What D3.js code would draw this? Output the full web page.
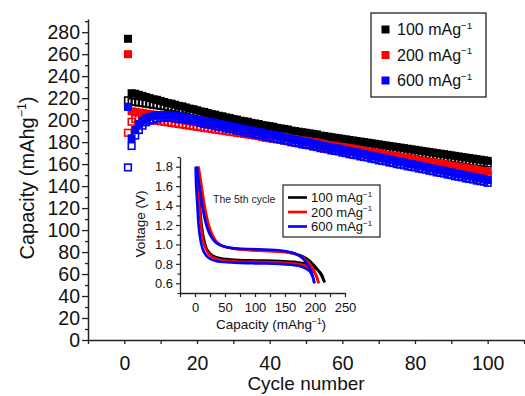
<!DOCTYPE html>
<html>
<head>
<meta charset="utf-8">
<script src="https://cdn.jsdelivr.net/npm/d3@7"></script>
<style>
  html, body { margin: 0; padding: 0; background: #fff; }
  svg { display: block; font-family: "Liberation Sans", Arial, sans-serif; }
</style>
</head>
<body>
<svg id="chart" width="525" height="396"></svg>
<script>
// capacity (mAh g-1) per cycle, index 0 = cycle 1; filled = discharge, open = charge
const dis100 = [274,
  224.5, 224, 223, 222, 221, 220, 219, 218.5, 217.5,
  216.5, 215.5, 215, 214, 213, 212.5, 211.5, 210.5, 210, 209,
  208, 207.5, 206.5, 205.5, 205, 204, 203.5, 202.5, 202, 201,
  200.5, 199.5, 199, 198.5, 197.5, 197, 196.5, 195.5, 195, 194.5,
  194, 193, 192.5, 192, 191.5, 190.5, 190, 189.5, 189, 188.5,
  188, 187.5, 187, 186, 185.5, 185, 184.5, 184, 183.5, 183,
  182.5, 182, 181.5, 181, 180.5, 180, 179.5, 179, 178.5, 178,
  177.5, 177, 176.5, 176, 175.5, 175, 174.5, 174, 173.5, 173,
  172.5, 172, 171.5, 171, 170.5, 170, 169.5, 169, 168.5, 168,
  167.5, 167, 166.5, 166, 165.5, 165, 164.5, 164, 163.5, 163];
const chg100 = [218,
  216.5, 216.5, 216, 215.5, 215, 214.5, 214, 213.5, 213,
  212.5, 212, 211.5, 211, 210, 209.5, 208.5, 207.5, 207, 206,
  205, 204.5, 203.5, 202.5, 202, 201, 200.5, 199.5, 199, 198,
  197.5, 196.5, 196, 195.5, 194.5, 194, 193.5, 192.5, 192, 191.5,
  191, 190, 189.5, 189, 188.5, 187.5, 187, 186.5, 186, 185.5,
  185, 184.5, 184, 183, 182.5, 182, 181.5, 181, 180.5, 180,
  179.5, 179, 178.5, 178, 177.5, 177, 176.5, 176, 175.5, 175,
  174.5, 174, 173.5, 173, 172.5, 172, 171.5, 171, 170.5, 170,
  169.5, 169, 168.5, 168, 167.5, 167, 166.5, 166, 165.5, 165,
  164.5, 164, 163.5, 163, 162.5, 162, 161.5, 161, 161, 160.5];
const dis200 = [260,
  208, 207.5, 207, 206.5, 206, 205.5, 205, 204.5, 203.5,
  203, 202.5, 202, 201, 200.5, 200, 199.5, 199, 198.5, 198,
  197.5, 197, 196.5, 195.5, 195, 194.5, 194, 193.5, 193, 192.5,
  191.5, 191, 190.5, 190, 189.5, 189, 188.5, 187.5, 187, 186.5,
  186, 185.5, 185, 184.5, 184, 183, 182.5, 182, 181.5, 181,
  180.5, 180, 179.5, 179, 178, 177.5, 177, 176.5, 176, 175.5,
  175, 174.5, 174, 173, 172.5, 172, 171.5, 171, 170.5, 170,
  169.5, 168.5, 168, 167.5, 167, 166.5, 166, 165.5, 165, 164.5,
  163.5, 163, 162.5, 162, 161.5, 161, 160.5, 160, 159.5, 158.5,
  158, 157.5, 157, 156.5, 156, 155.5, 155, 154, 153.5, 153];
const chg200 = [188.5,
  198.5, 201, 201.5, 201.5, 201, 200.5, 200, 199.5, 199,
  198.5, 198, 197.5, 197, 196.5, 196, 195.5, 195, 194.5, 194,
  193.5, 193, 192.5, 192, 191.5, 191, 190.5, 190, 189.5, 189,
  188.5, 188, 187.5, 187, 186.5, 186, 185.5, 184.5, 184, 183.5,
  183, 182.5, 182, 181.5, 181, 180, 179.5, 179, 178.5, 178,
  177.5, 177, 176.5, 176, 175, 174.5, 174, 173.5, 173, 172.5,
  172, 171.5, 171, 170, 169.5, 169, 168.5, 168, 167.5, 167,
  166.5, 165.5, 165, 164.5, 164, 163.5, 163, 162.5, 162, 161.5,
  160.5, 160, 159.5, 159, 158.5, 158, 157.5, 157, 156.5, 155.5,
  155, 154.5, 154, 153.5, 153, 152.5, 152, 151, 150.5, 150];
const dis600 = [212,
  183.5, 191, 196.5, 199.5, 201.5, 203, 204, 204.5, 204.5,
  204.5, 204.5, 204.5, 204, 203.5, 203, 202.5, 202, 201, 200.5,
  200, 199, 198.5, 198, 197, 196.5, 196, 195, 194.5, 194,
  193, 192.5, 191.5, 191, 190.5, 189.5, 189, 188.5, 187.5, 187,
  186, 185.5, 185, 184, 183.5, 182.5, 182, 181.5, 180.5, 180,
  179.5, 178.5, 178, 177, 176.5, 176, 175, 174.5, 174, 173,
  172.5, 171.5, 171, 170.5, 169.5, 169, 168.5, 167.5, 167, 166,
  165.5, 165, 164, 163.5, 162.5, 162, 161.5, 160.5, 160, 159.5,
  158.5, 158, 157.5, 156.5, 156, 155, 154.5, 154, 153, 152.5,
  151.5, 151, 150.5, 149.5, 149, 148.5, 147.5, 147, 146.5, 145.5];
const chg600 = [157,
  176.5, 186, 191, 195, 198, 199.5, 200.5, 201.5, 202,
  202, 202, 202, 201.5, 201.5, 201, 200.5, 200, 199, 198.5,
  197.5, 196.5, 196, 195.5, 194.5, 194, 193.5, 192.5, 192, 191.5,
  190.5, 190, 189, 188.5, 188, 187, 186.5, 186, 185, 184.5,
  183.5, 183, 182.5, 181.5, 181, 180, 179.5, 179, 178, 177.5,
  177, 176, 175.5, 174.5, 174, 173.5, 172.5, 172, 171.5, 170.5,
  170, 169, 168.5, 168, 167, 166.5, 166, 165, 164.5, 163.5,
  163, 162.5, 161.5, 161, 160, 159.5, 159, 158, 157.5, 157,
  156, 155.5, 155, 154, 153.5, 152.5, 152, 151.5, 150.5, 150,
  149, 148.5, 148, 147, 146.5, 146, 145, 144.5, 144, 143];

const rateLabels = ['100', '200', '600'];
const rateColors = ['#000000', '#ff0000', '#0000ff'];

// inset: 5th cycle voltage profiles, [capacity, voltage]
const v100Dis = [[3, 1.80], [5, 1.6], [8, 1.4], [11, 1.2], [15, 1.05], [20, 0.95], [28, 0.89], [40, 0.86], [60, 0.845], [100, 0.835], [140, 0.83], [165, 0.82], [185, 0.80], [200, 0.76], [210, 0.70], [216, 0.61]];
const v100Chg = [[5, 1.80], [9, 1.6], [14, 1.4], [20, 1.22], [27, 1.1], [35, 1.02], [48, 0.98], [70, 0.955], [110, 0.94], [150, 0.925], [170, 0.90], [185, 0.86], [198, 0.79], [208, 0.71], [216, 0.61]];
const v200Dis = [[2, 1.80], [4, 1.6], [7, 1.4], [10, 1.2], [14, 1.03], [19, 0.94], [27, 0.875], [40, 0.845], [60, 0.83], [100, 0.82], [140, 0.815], [165, 0.805], [182, 0.785], [195, 0.74], [202, 0.68], [206, 0.60]];
const v200Chg = [[6, 1.80], [11, 1.6], [16, 1.4], [22, 1.22], [29, 1.1], [37, 1.02], [50, 0.975], [70, 0.95], [110, 0.935], [150, 0.92], [170, 0.895], [183, 0.85], [195, 0.77], [202, 0.68], [206, 0.60]];
const v600Dis = [[1, 1.80], [2, 1.6], [4, 1.4], [6, 1.2], [10, 1.02], [15, 0.92], [23, 0.86], [35, 0.83], [60, 0.815], [100, 0.805], [140, 0.80], [160, 0.79], [178, 0.77], [190, 0.73], [196, 0.67], [199, 0.60]];
const v600Chg = [[3, 1.80], [7, 1.6], [12, 1.4], [18, 1.22], [25, 1.1], [33, 1.03], [45, 0.985], [65, 0.96], [105, 0.95], [145, 0.935], [165, 0.91], [178, 0.865], [188, 0.79], [195, 0.70], [199, 0.60]];

const mainXTicks = [0, 20, 40, 60, 80, 100];
const mainYTicks = [0, 20, 40, 60, 80, 100, 120, 140, 160, 180, 200, 220, 240, 260, 280];
const insetXTicks = [0, 50, 100, 150, 200, 250];
const insetYTicks = [0.6, 0.8, 1.0, 1.2, 1.4, 1.6, 1.8];

const svg = d3.select('#chart');

// superscript helper: "base" + sup + "after"
function supText(sel, base, sup, after, size) {
  sel.append('tspan').text(base);
  sel.append('tspan').attr('font-size', size * 0.62).attr('dy', -size * 0.4).text(sup);
  sel.append('tspan').attr('dy', size * 0.4).text(after);
}

// ---- main plot ----
const x = d3.scaleLinear().domain([-10, 110]).range([88, 524]);
const y = d3.scaleLinear().domain([0, 292]).range([340, 19]);

const yAxis = svg.append('g').attr('transform', 'translate(88,0)')
  .call(d3.axisLeft(y).tickValues(mainYTicks).tickSize(6).tickSizeOuter(0).tickPadding(2));
svg.append('g').attr('transform', 'translate(88,0)')
  .call(d3.axisLeft(y).tickValues(d3.range(10, 292, 20)).tickSize(3).tickSizeOuter(0).tickFormat(''))
  .select('.domain').remove();
const xAxis = svg.append('g').attr('transform', 'translate(0,340)')
  .call(d3.axisBottom(x).tickValues(mainXTicks).tickSize(4).tickSizeOuter(0).tickPadding(12));
svg.append('g').attr('transform', 'translate(0,340)')
  .call(d3.axisBottom(x).tickValues([-10, 10, 30, 50, 70, 90, 110]).tickSize(4).tickSizeOuter(0).tickFormat(''))
  .select('.domain').remove();

svg.selectAll('.tick line').attr('stroke', '#222').attr('stroke-width', 1.3);
svg.selectAll('.domain').attr('stroke', '#222').attr('stroke-width', 1.5);
yAxis.selectAll('text').attr('font-size', 19.5).attr('fill', '#111').attr('font-family', null);
xAxis.selectAll('text').attr('font-size', 19.5).attr('fill', '#111').attr('font-family', null);

supText(svg.append('text')
  .attr('transform', 'translate(34,178) rotate(-90)')
  .attr('text-anchor', 'middle').attr('font-size', 20).attr('fill', '#111'),
  'Capacity (mAhg', '\u22121', ')', 20);

svg.append('text').attr('x', 306).attr('y', 390)
  .attr('text-anchor', 'middle').attr('font-size', 19).attr('fill', '#111')
  .text('Cycle number');

// data squares, drawn 100 -> 200 -> 600
const mainSeries = [
  { dis: dis100, chg: chg100, color: rateColors[0] },
  { dis: dis200, chg: chg200, color: rateColors[1] },
  { dis: dis600, chg: chg600, color: rateColors[2] }
];
const markGroup = svg.append('g');
mainSeries.forEach(s => {
  const g = markGroup.append('g');
  g.selectAll('rect.dis')
    .data(s.dis)
    .join('rect')
    .attr('class', 'dis')
    .attr('x', (d, i) => x(i + 1) - 4)
    .attr('y', d => y(d) - 4)
    .attr('width', 8)
    .attr('height', 8)
    .attr('fill', s.color);
  g.selectAll('rect.chg')
    .data(s.chg)
    .join('rect')
    .attr('class', 'chg')
    .attr('x', (d, i) => x(i + 1) - 3.3)
    .attr('y', d => y(d) - 3.3)
    .attr('width', 6.6)
    .attr('height', 6.6)
    .attr('fill', 'none')
    .attr('stroke', s.color)
    .attr('stroke-width', 1.6);
});

// main legend
const legend = svg.append('g');
legend.append('rect')
  .attr('x', 371).attr('y', 13).attr('width', 115).attr('height', 84)
  .attr('fill', '#fff').attr('stroke', '#222').attr('stroke-width', 1.3);
rateLabels.forEach((label, i) => {
  const cy = 29.5 + i * 25.5;
  legend.append('rect')
    .attr('x', 381.5).attr('y', cy - 4).attr('width', 8).attr('height', 8)
    .attr('fill', rateColors[i]);
  supText(legend.append('text').attr('x', 397).attr('y', cy + 5.5)
    .attr('font-size', 16).attr('fill', '#111'),
    label + ' mAg', '\u22121', '', 16);
});

// ---- inset ----
const ix = d3.scaleLinear().domain([-25, 250]).range([180, 345]);
const iy = d3.scaleLinear().domain([0.5, 1.9]).range([293, 157]);
const inset = svg.append('g');

const iyAxis = inset.append('g').attr('transform', 'translate(180,0)')
  .call(d3.axisLeft(iy).tickValues(insetYTicks).tickSize(4).tickSizeOuter(0).tickPadding(3)
    .tickFormat(d3.format('.1f')));
inset.append('g').attr('transform', 'translate(180,0)')
  .call(d3.axisLeft(iy).tickValues([0.5, 0.7, 0.9, 1.1, 1.3, 1.5, 1.7, 1.9]).tickSize(2.5).tickSizeOuter(0).tickFormat(''))
  .select('.domain').remove();
const ixAxis = inset.append('g').attr('transform', 'translate(0,293)')
  .call(d3.axisBottom(ix).tickValues(insetXTicks).tickSize(4).tickSizeOuter(0).tickPadding(6));
inset.append('g').attr('transform', 'translate(0,293)')
  .call(d3.axisBottom(ix).tickValues([-25, 25, 75, 125, 175, 225]).tickSize(4).tickSizeOuter(0).tickFormat(''))
  .select('.domain').remove();

inset.selectAll('.tick line').attr('stroke', '#222').attr('stroke-width', 1.2);
inset.selectAll('.domain').attr('stroke', '#222').attr('stroke-width', 1.3);
iyAxis.selectAll('text').attr('font-size', 13).attr('fill', '#111').attr('font-family', null);
ixAxis.selectAll('text').attr('font-size', 13).attr('fill', '#111').attr('font-family', null);

inset.append('text')
  .attr('transform', 'translate(145,224) rotate(-90)')
  .attr('text-anchor', 'middle').attr('font-size', 13.5).attr('fill', '#111')
  .text('Voltage (V)');
supText(inset.append('text').attr('x', 271).attr('y', 329)
  .attr('text-anchor', 'middle').attr('font-size', 13.5).attr('fill', '#111'),
  'Capacity (mAhg', '\u22121', ')', 13.5);

inset.append('text').attr('x', 213).attr('y', 203)
  .attr('font-size', 10.5).attr('fill', '#222')
  .text('The 5th cycle');

const vLine = d3.line()
  .x(d => ix(d[0]))
  .y(d => iy(d[1]))
  .curve(d3.curveCatmullRom.alpha(0.5));

const voltageSeries = [
  { curves: [v100Dis, v100Chg], color: rateColors[0] },
  { curves: [v200Dis, v200Chg], color: rateColors[1] },
  { curves: [v600Dis, v600Chg], color: rateColors[2] }
];
voltageSeries.forEach(s => {
  s.curves.forEach(c => {
    inset.append('path')
      .datum(c)
      .attr('fill', 'none')
      .attr('stroke', s.color)
      .attr('stroke-width', 2.6)
      .attr('stroke-linejoin', 'round')
      .attr('d', vLine);
  });
});

// inset legend
const ilegend = inset.append('g');
ilegend.append('rect')
  .attr('x', 283).attr('y', 185).attr('width', 97).attr('height', 52)
  .attr('fill', '#fff').attr('stroke', '#222').attr('stroke-width', 1.2);
rateLabels.forEach((label, i) => {
  const cy = 197.5 + i * 14.5;
  ilegend.append('line')
    .attr('x1', 288).attr('x2', 307).attr('y1', cy).attr('y2', cy)
    .attr('stroke', rateColors[i]).attr('stroke-width', 2.6);
  supText(ilegend.append('text').attr('x', 311).attr('y', cy + 4.5)
    .attr('font-size', 13).attr('fill', '#111'),
    label + ' mAg', '\u22121', '', 13);
});
</script>
</body>
</html>
